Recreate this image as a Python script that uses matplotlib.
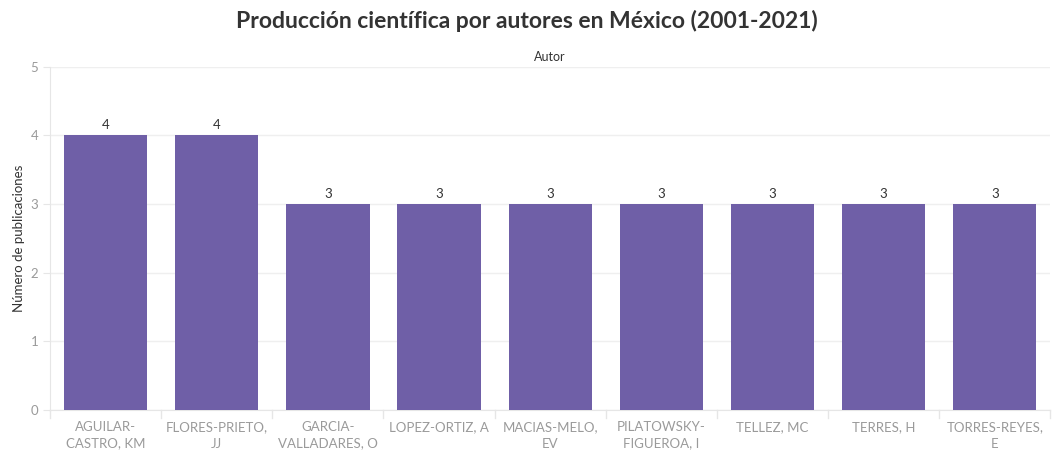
import matplotlib.pyplot as plt
import numpy as np

# Publications per author
autores = ['AGUILAR-\nCASTRO, KM', 'FLORES-PRIETO,\nJJ', 'GARCIA-\nVALLADARES, O',
           'LOPEZ-ORTIZ, A', 'MACIAS-MELO,\nEV', 'PILATOWSKY-\nFIGUEROA, I',
           'TELLEZ, MC', 'TERRES, H', 'TORRES-REYES,\nE']
publicaciones = [4, 4, 3, 3, 3, 3, 3, 3, 3]

BAR_COLOR = '#6f5fa7'
GRID = '#efefef'
TICK_COLOR = '#9a9a9a'

plt.rcParams['font.family'] = ['Lato', 'DejaVu Sans']

fig = plt.figure(figsize=(10.53, 4.53), dpi=100)
ax = fig.add_axes([0.0475, 0.095, 0.95, 0.758])

x = np.arange(len(autores))
bars = ax.bar(x, publicaciones, width=0.75, color=BAR_COLOR, zorder=3)
for b, v in zip(bars, publicaciones):
    ax.text(b.get_x() + b.get_width() / 2, v + 0.06, str(v), ha='center', va='bottom',
            fontsize=9.5, color='#333333', zorder=4)

ax.set_xlim(-0.5, len(autores) - 0.5)
ax.set_ylim(0, 5)
ax.set_yticks(range(0, 6))
ax.yaxis.grid(True, color=GRID, linewidth=1, zorder=0)

for s in ['top', 'right']:
    ax.spines[s].set_visible(False)
for s in ['left', 'bottom']:
    ax.spines[s].set_color('#e6e6e6')

ax.tick_params(axis='y', colors='#e6e6e6', labelcolor=TICK_COLOR, labelsize=9.5, length=5)
ax.set_xticks(x)
ax.set_xticklabels(autores, color=TICK_COLOR, fontsize=9.5, linespacing=1.45)
ax.tick_params(axis='x', length=0, pad=8)

# Column separators under the axis
for xb in np.arange(-0.5, len(autores), 1.0):
    ax.plot([xb, xb], [0, -0.12], color='#e6e6e6', linewidth=1, clip_on=False)

ax.set_ylabel('Número de publicaciones', fontsize=9.5, color='#333333', labelpad=4)

fig.text(0.5, 0.953, 'Producción científica por autores en México (2001-2021)',
         ha='center', va='center', fontsize=16.5, fontweight='bold', color='#333333')
fig.text(0.5225, 0.875, 'Autor', ha='center', va='center', fontsize=9, color='#333333')

fig.savefig('out.png', dpi=100)
